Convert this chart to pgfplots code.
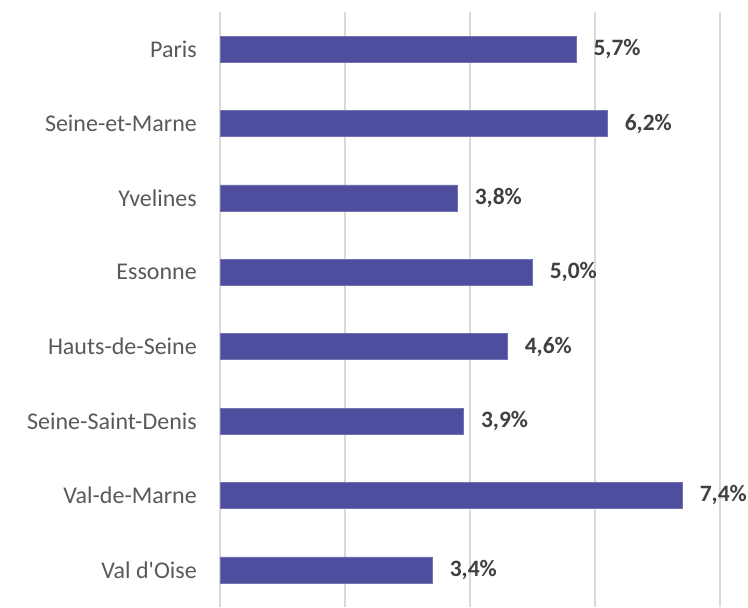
\documentclass[border=0pt]{standalone}
\usepackage{fontspec}
\setmainfont{Carlito}
\usepackage{pgfplots}
\pgfplotsset{compat=1.18}
\definecolor{barblue}{HTML}{4F4E9E}
\definecolor{labgray}{HTML}{595959}
\definecolor{valgray}{HTML}{404040}
\definecolor{gridgray}{HTML}{D9D9D9}

\begin{document}
\begin{tikzpicture}
\begin{axis}[
    name=ax,
    at={(0,0)}, anchor=south west,
    scale only axis,
    width=500bp, height=595bp,
    xbar, bar width=26bp,
    xmin=0, xmax=8,
    ymin=-0.5, ymax=7.5,
    y dir=reverse,
    xtick={0,2,4,6,8}, xticklabels={},
    ytick={0,...,7},
    yticklabels={Paris, Seine-et-Marne, Yvelines, Essonne, Hauts-de-Seine,
                 Seine-Saint-Denis, Val-de-Marne, Val d\textquotesingle Oise},
    major tick length=0pt,
    axis line style={draw=none},
    xmajorgrids,
    grid style={gridgray, line width=1.4bp},
    yticklabel style={font=\fontsize{24bp}{28bp}\selectfont, text=labgray,
                      inner sep=0pt, xshift=-23bp},
    point meta=x,
    nodes near coords={\pgfmathprintnumber{\pgfplotspointmeta}\%},
    every node near coord/.append style={font=\fontsize{23.5bp}{27bp}\selectfont\bfseries,
                      text=valgray, anchor=west, inner sep=0pt, xshift=17bp,
                      /pgf/number format/.cd, fixed, fixed zerofill, precision=1,
                      use comma, assume math mode=true},
]
\addplot[fill=barblue, draw=barblue!80!white, line width=0.6bp] coordinates {
    (5.7,0)
    (6.2,1)
    (3.8,2)
    (5.0,3)
    (4.6,4)
    (3.9,5)
    (7.4,6)
    (3.4,7)
};
\end{axis}
\pgfresetboundingbox
\path[use as bounding box] ([xshift=-220bp]ax.south west) rectangle ([xshift=28bp,yshift=12bp]ax.north east);
\end{tikzpicture}
\end{document}
